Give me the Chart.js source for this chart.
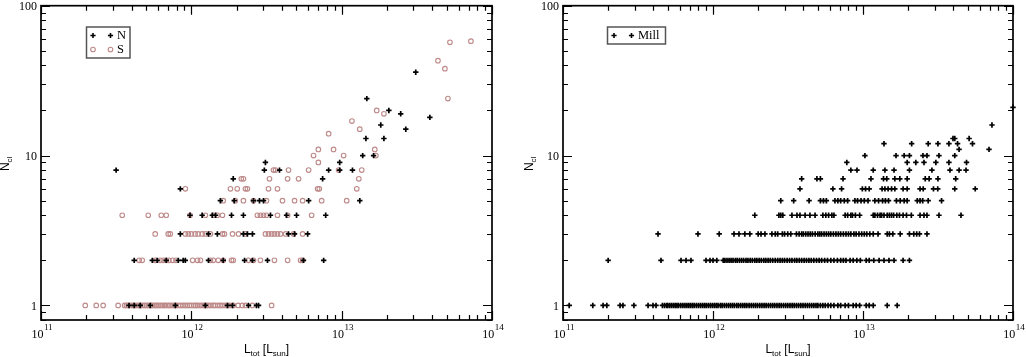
<!DOCTYPE html>
<html>
<head>
<meta charset="utf-8">
<script src="https://cdn.jsdelivr.net/npm/chart.js@4.4.1/dist/chart.umd.min.js"></script>
<style>
  body { margin: 0; background: #fff; width: 1026px; height: 357px; overflow: hidden; position: relative; }
  canvas { position: absolute; top: 0; }
  #leftChart { left: 0; }
  #rightChart { left: 510px; }
</style>
</head>
<body>
<canvas id="leftChart" width="510" height="357"></canvas>
<canvas id="rightChart" width="516" height="357"></canvas>
<script>
// axis ranges and tick labels
const lumMin = 1e11, lumMax = 1e14;
const nclMin = 0.8, nclMax = 100;
const xTickExps = ['11', '12', '13', '14'];
const yTickLabels = ['1', '10', '100'];

// [N_cl, [L_tot values]]
const northRows = [
  [1, [3.85e11, 4.17e11, 4.57e11, 5.33e11, 7.83e11, 1.24e12, 1.74e12, 1.88e12, 2.40e12, 2.71e12, 2.80e12]],
  [2, [4.17e11, 5.50e11, 5.93e11, 6.81e11, 8.19e11, 8.83e11, 9.12e11, 1.30e12, 1.63e12, 2.26e12, 2.55e12, 3.21e12, 5.57e12, 7.59e12]],
  [3, [8.45e11, 1.30e12, 1.49e12, 2.22e12, 2.36e12, 2.55e12, 4.43e12, 4.86e12, 5.94e12]],
  [4, [9.8e11, 1.18e12, 1.38e12, 1.45e12, 1.85e12, 2.22e12, 3.36e12, 4.30e12, 5.01e12, 7.83e12]],
  [5, [1.56e12, 1.93e12, 2.59e12, 2.84e12, 3.02e12, 6.03e12, 1.32e13]],
  [6, [8.45e11]],
  [7, [1.90e12, 7.47e12]],
  [8, [3.16e11, 3.06e12, 3.86e12, 8.19e12, 9.7e12, 1.18e13]],
  [9, [3.11e12, 9.7e12]],
  [10, [1.38e13, 1.63e13]],
  [13, [1.45e13, 1.91e13]],
  [15, [2.67e13]],
  [16, [1.82e13]],
  [18, [3.86e13]],
  [19, [2.47e13]],
  [20, [2.06e13]],
  [24, [1.47e13]],
  [36, [3.11e13]]
];

const southRows = [
  [1, [1.97e11, 2.33e11, 2.59e11, 3.26e11, 3.6e11, 3.7e11, 3.8e11, 3.95e11, 4.1e11, 4.2e11, 4.35e11, 4.5e11,
       4.6e11, 4.75e11, 4.9e11, 5.05e11, 5.2e11, 5.4e11, 5.5e11, 5.7e11, 5.85e11, 6.0e11, 6.2e11, 6.4e11,
       6.6e11, 6.75e11, 7.0e11, 7.2e11, 7.45e11, 7.7e11, 7.9e11, 8.2e11, 8.5e11, 8.8e11, 9.1e11, 9.4e11,
       9.7e11, 1.0e12, 1.04e12, 1.07e12, 1.1e12, 1.14e12, 1.18e12, 1.22e12, 1.26e12, 1.3e12, 1.35e12,
       1.4e12, 1.44e12, 1.5e12, 1.55e12, 1.6e12, 1.67e12, 1.73e12, 1.8e12, 1.9e12, 2.05e12, 2.18e12,
       2.29e12, 2.55e12, 3.42e12]],
  [2, [4.50e11, 4.71e11, 5.75e11, 6.2e11, 6.5e11, 6.8e11, 7.1e11, 7.5e11, 7.9e11, 1.02e12, 1.10e12, 1.15e12,
       1.34e12, 1.40e12, 1.51e12, 1.63e12, 1.85e12, 1.90e12, 2.40e12, 2.59e12, 2.88e12, 3.57e12, 4.37e12,
       5.33e12, 5.5e12]],
  [3, [5.75e11, 7.02e11, 7.24e11, 9.12e11, 9.55e11, 1.00e12, 1.06e12, 1.11e12, 1.18e12, 1.24e12, 1.34e12,
       1.61e12, 1.66e12, 1.88e12, 2.06e12, 2.29e12, 3.11e12, 3.26e12, 3.42e12, 3.57e12, 3.74e12, 3.92e12,
       4.24e12, 4.79e12, 5.5e12]],
  [4, [3.47e11, 5.17e11, 6.31e11, 6.81e11, 9.8e11, 1.24e12, 1.40e12, 1.49e12, 1.61e12, 2.75e12, 2.88e12,
       3.02e12, 3.16e12, 3.74e12, 4.37e12, 6.31e12]],
  [5, [1.63e12, 1.96e12, 2.22e12, 2.59e12, 3.16e12, 4.04e12, 4.86e12, 5.5e12, 7.36e12, 1.08e13]],
  [6, [9.12e11, 1.82e12, 2.02e12, 2.29e12, 2.36e12, 3.26e12, 3.74e12, 6.92e12, 7.1e12, 1.26e13]],
  [7, [2.15e12, 2.22e12, 3.31e12, 4.37e12, 5.17e12, 1.30e13]],
  [8, [3.52e12, 3.63e12, 4.43e12, 6.03e12, 9.55e12, 1.36e13]],
  [9, [7.0e12]],
  [10, [6.5e12, 1.03e13, 1.69e13]],
  [11, [7.0e12, 8.83e12, 1.66e13]],
  [14, [8.19e12]],
  [15, [1.32e13]],
  [17, [1.17e13]],
  [19, [1.91e13]],
  [20, [1.71e13]],
  [24, [5.09e13]],
  [38, [4.86e13]],
  [43, [4.37e13]],
  [57, [5.25e13]],
  [58, [7.24e13]]
];

const millRows = [
  [1, [1.10e11, 1.58e11, 1.85e11, 1.96e11, 2.40e11, 2.51e11, 2.97e11, 3.69e11, 3.98e11, 4.17e11,
       4.6e11, 4.75e11, 4.9e11, 5.0e11, 5.15e11, 5.3e11, 5.45e11, 5.6e11, 5.75e11, 5.9e11, 6.1e11, 6.3e11,
       6.5e11, 6.7e11, 6.9e11, 7.1e11, 7.3e11, 7.5e11, 7.75e11, 8.0e11, 8.25e11, 8.5e11, 8.75e11, 9.0e11,
       9.3e11, 9.6e11, 9.9e11, 1.02e12, 1.05e12, 1.08e12, 1.12e12, 1.15e12, 1.19e12, 1.23e12, 1.27e12,
       1.31e12, 1.35e12, 1.39e12, 1.44e12, 1.48e12, 1.53e12, 1.58e12, 1.63e12, 1.68e12, 1.74e12, 1.8e12,
       1.86e12, 1.92e12, 1.98e12, 2.05e12, 2.12e12, 2.19e12, 2.26e12, 2.34e12, 2.42e12, 2.5e12, 2.58e12,
       2.67e12, 2.76e12, 2.85e12, 2.95e12, 3.05e12, 3.15e12, 3.26e12, 3.37e12, 3.48e12, 3.6e12, 3.72e12,
       3.85e12, 3.98e12, 4.12e12, 4.26e12, 4.4e12, 4.55e12, 4.7e12, 4.86e12, 5.0e12, 5.2e12, 5.4e12,
       5.6e12, 5.85e12, 6.1e12, 6.4e12, 6.8e12, 7.1e12, 7.6e12, 8.0e12, 8.6e12, 9.0e12, 9.5e12, 1.05e13,
       1.1e13, 1.17e13, 1.45e13, 1.69e13]],
  [2, [2.0e11, 4.50e11, 6.12e11, 6.61e11, 7.13e11, 8.98e11, 9.55e11, 1.0e12, 1.06e12,
       1.17e12, 1.2e12, 1.24e12, 1.28e12, 1.32e12, 1.36e12, 1.41e12, 1.45e12, 1.5e12, 1.55e12, 1.6e12,
       1.66e12, 1.71e12, 1.77e12, 1.83e12, 1.9e12, 1.96e12, 2.03e12, 2.1e12, 2.18e12, 2.25e12, 2.33e12,
       2.41e12, 2.5e12, 2.6e12, 2.7e12, 2.8e12, 2.9e12, 3.0e12, 3.12e12, 3.24e12, 3.36e12, 3.5e12, 3.62e12,
       3.76e12, 3.9e12, 4.05e12, 4.2e12, 4.36e12, 4.52e12, 4.7e12, 4.9e12, 5.1e12, 5.3e12, 5.55e12, 5.8e12,
       6.1e12, 6.4e12, 6.75e12, 7.1e12, 7.4e12, 7.7e12, 8.2e12, 8.6e12, 9.1e12, 9.6e12, 1.05e13, 1.1e13,
       1.18e13, 1.28e13, 1.38e13, 1.49e13, 1.61e13, 1.85e13, 2.04e13]],
  [3, [4.30e11, 7.94e11, 1.10e12, 1.38e12, 1.49e12, 1.63e12, 1.76e12, 2.0e12, 2.09e12, 2.22e12, 2.47e12,
       2.6e12, 2.7e12, 2.9e12, 3.0e12, 3.15e12, 3.3e12, 3.6e12, 3.75e12, 3.9e12, 4.0e12, 4.15e12, 4.3e12,
       4.45e12, 4.6e12, 4.8e12, 5.0e12, 5.15e12, 5.3e12, 5.5e12, 5.7e12, 5.9e12, 6.1e12, 6.35e12, 6.6e12,
       6.85e12, 7.1e12, 7.4e12, 7.7e12, 8.0e12, 8.3e12, 8.7e12, 9.0e12, 9.4e12, 9.8e12, 1.02e13, 1.06e13,
       1.11e13, 1.17e13, 1.26e13, 1.45e13, 1.5e13, 1.58e13, 1.77e13, 2.04e13, 2.18e13, 2.28e13, 2.38e13,
       2.67e13]],
  [4, [1.90e12, 2.75e12, 2.83e12, 2.92e12, 3.36e12, 3.63e12, 3.80e12, 4.11e12, 4.43e12, 4.79e12, 5.4e12,
       5.65e12, 5.9e12, 6.2e12, 6.4e12, 7.6e12, 7.9e12, 8.3e12, 8.5e12, 8.9e12, 9.5e12, 1.17e13, 1.2e13,
       1.25e13, 1.3e13, 1.33e13, 1.38e13, 1.45e13, 1.5e13, 1.55e13, 1.6e13, 1.68e13, 1.75e13, 1.85e13,
       1.95e13, 2.1e13, 2.4e13, 2.55e13, 2.67e13, 3.21e13, 4.5e13]],
  [5, [2.83e12, 3.45e12, 4.37e12, 5.2e12, 5.45e12, 5.7e12, 6.5e12, 6.8e12, 7.1e12, 7.5e12, 7.9e12, 8.83e12,
       9.2e12, 9.7e12, 1.02e13, 1.08e13, 1.2e13, 1.27e13, 1.35e13, 1.41e13, 1.48e13, 1.67e13, 1.77e13,
       1.88e13, 1.97e13, 2.3e13, 2.4e13, 2.5e13, 2.72e13, 3.34e13]],
  [6, [3.80e12, 6.3e12, 7.2e12, 9.9e12, 1.04e13, 1.1e13, 1.34e13, 1.4e13, 1.47e13, 1.55e13, 1.63e13,
       1.85e13, 1.97e13, 2.4e13, 2.52e13, 2.95e13, 3.15e13, 4.09e13, 5.6e13]],
  [7, [3.9e12, 4.93e12, 5.2e12, 7.36e12, 1.13e13, 1.37e13, 1.44e13, 1.63e13, 1.76e13, 1.97e13, 2.6e13,
       2.76e13, 3.16e13, 4.15e13]],
  [8, [8.3e12, 9.12e12, 1.17e13, 1.40e13, 1.61e13, 2.04e13, 2.88e13, 3.8e13, 4.37e13, 4.86e13]],
  [9, [7.8e12, 1.97e13, 2.25e13, 2.55e13, 3.06e13, 3.74e13, 4.9e13]],
  [10, [1.03e13, 1.66e13, 1.88e13, 2.04e13, 2.51e13, 2.67e13, 3.21e13, 4.09e13]],
  [11, [4.37e13, 6.92e13]],
  [12, [1.38e13, 2.11e13, 2.72e13, 3.16e13, 3.74e13, 4.27e13, 5.37e13]],
  [13, [3.98e13, 4.09e13, 5.1e13]],
  [16, [7.24e13]],
  [21, [1.0e14]]
];

const SERIF = '"Liberation Serif", "DejaVu Serif", serif';
const SANS = '"Liberation Sans", "DejaVu Sans", sans-serif';
const ROSY = 'rgb(190, 138, 138)';

function toPoints(rows) {
  const pts = [];
  rows.forEach(r => r[1].forEach(L => pts.push({ x: L, y: r[0] })));
  return pts;
}

// draw a run of text pieces: {t, size, dy, font}
function drawParts(ctx, parts, x, y, align) {
  let total = 0;
  parts.forEach(p => {
    ctx.font = p.size + 'px ' + p.font;
    p.w = ctx.measureText(p.t).width;
    total += p.w + (p.gap || 0);
  });
  let cx = align === 'center' ? x - total / 2 : x;
  ctx.textAlign = 'left';
  ctx.textBaseline = 'alphabetic';
  parts.forEach(p => {
    ctx.font = p.size + 'px ' + p.font;
    cx += (p.gap || 0);
    ctx.fillText(p.t, cx, y + (p.dy || 0));
    cx += p.w;
  });
}

function drawMarker(ctx, style, x, y) {
  ctx.save();
  ctx.beginPath();
  if (style === 'circle') {
    ctx.strokeStyle = ROSY;
    ctx.lineWidth = 1.1;
    ctx.arc(x, y, 2.3, 0, Math.PI * 2);
  } else {
    ctx.strokeStyle = '#000';
    ctx.lineWidth = 1.6;
    ctx.moveTo(x - 2.6, y); ctx.lineTo(x + 2.6, y);
    ctx.moveTo(x, y - 2.6); ctx.lineTo(x, y + 2.6);
  }
  ctx.stroke();
  ctx.restore();
}

const axesPlugin = {
  id: 'axesFrame',
  afterDraw(chart, args, opts) {
    const ctx = chart.ctx;
    const xs = chart.scales.x, ys = chart.scales.y;
    const { left, right, top, bottom } = chart.chartArea;
    ctx.save();
    ctx.fillStyle = '#000';
    ctx.strokeStyle = '#000';

    // ticks, pointing inward on all four sides
    ctx.lineWidth = 1.2;
    ctx.beginPath();
    for (let e = 11; e <= 14; e++) {
      for (let m = 1; m <= 9; m++) {
        const v = m * Math.pow(10, e);
        if (v > lumMax * 1.0001) break;
        const px = Math.round(xs.getPixelForValue(v)) + 0.5;
        const len = m === 1 ? 9 : 5;
        ctx.moveTo(px, bottom); ctx.lineTo(px, bottom - len);
        ctx.moveTo(px, top); ctx.lineTo(px, top + len);
      }
    }
    for (let e = -1; e <= 2; e++) {
      for (let m = 1; m <= 9; m++) {
        const v = m * Math.pow(10, e);
        if (v < nclMin) continue;
        if (v > nclMax * 1.0001) break;
        const py = Math.round(ys.getPixelForValue(v)) + 0.5;
        const len = m === 1 ? 9 : 5;
        ctx.moveTo(left, py); ctx.lineTo(left + len, py);
        ctx.moveTo(right, py); ctx.lineTo(right - len, py);
      }
    }
    ctx.stroke();

    // frame
    ctx.lineWidth = 1.7;
    ctx.strokeRect(left, top, right - left, bottom - top);

    // x tick labels 10^n
    xTickExps.forEach(exp => {
      const px = xs.getPixelForValue(Math.pow(10, +exp));
      drawParts(ctx, [
        { t: '10', size: 12, font: SERIF },
        { t: exp, size: 9, font: SERIF, dy: -8, gap: 0.5 }
      ], px + 1, 338, 'center');
    });

    // y tick labels
    ctx.font = '12px ' + SERIF;
    ctx.textAlign = 'right';
    ctx.textBaseline = 'middle';
    yTickLabels.forEach(lab => {
      const py = ys.getPixelForValue(+lab);
      ctx.fillText(lab, left - 4, py + 1);
    });

    // axis titles
    drawParts(ctx, [
      { t: 'L', size: 12, font: SANS },
      { t: 'tot', size: 8, font: SANS, dy: 3 },
      { t: ' [L', size: 12, font: SANS },
      { t: 'sun', size: 8, font: SANS, dy: 3 },
      { t: ']', size: 12, font: SANS }
    ], (left + right) / 2, 353, 'center');

    ctx.save();
    ctx.translate(opts.yTitleX, (top + bottom) / 2 + 1);
    ctx.rotate(-Math.PI / 2);
    drawParts(ctx, [
      { t: 'N', size: 12, font: SANS },
      { t: 'cl', size: 8, font: SANS, dy: 3 }
    ], 0, 0, 'center');
    ctx.restore();

    // legend box
    const lg = opts.legend;
    ctx.strokeStyle = '#555';
    ctx.lineWidth = 1.5;
    ctx.strokeRect(lg.x, lg.y, lg.w, lg.h);
    ctx.fillStyle = '#000';
    lg.items.forEach((it, i) => {
      const yy = lg.y + 8.5 + i * 14;
      drawMarker(ctx, it.style, lg.x + 6.5, yy);
      drawMarker(ctx, it.style, lg.x + 24, yy);
      ctx.font = '12.5px ' + SERIF;
      ctx.textAlign = 'left';
      ctx.textBaseline = 'middle';
      ctx.fillText(it.label, lg.x + 30.5, yy + 0.5);
    });
    ctx.restore();
  }
};

function logScales() {
  return {
    x: { type: 'logarithmic', min: lumMin, max: lumMax, display: false },
    y: { type: 'logarithmic', min: nclMin, max: nclMax, display: false }
  };
}

const crossStyle = { pointStyle: 'cross', pointRadius: 2.7, pointBorderWidth: 1.7, borderColor: '#000', backgroundColor: '#000' };
const circleStyle = { pointStyle: 'circle', pointRadius: 2.3, pointBorderWidth: 1.1, borderColor: ROSY, backgroundColor: 'rgba(0,0,0,0)' };

new Chart(document.getElementById('leftChart'), {
  type: 'scatter',
  data: {
    datasets: [
      Object.assign({ label: 'N', data: toPoints(northRows), clip: false }, crossStyle),
      Object.assign({ label: 'S', data: toPoints(southRows), clip: false }, circleStyle)
    ]
  },
  options: {
    responsive: false,
    animation: false,
    events: [],
    layout: { padding: { left: 41, right: 18, top: 5, bottom: 37 } },
    scales: logScales(),
    plugins: {
      legend: { display: false },
      tooltip: { enabled: false },
      axesFrame: {
        yTitleX: 9,
        legend: { x: 86.5, y: 27, w: 43.5, h: 31, items: [{ style: 'cross', label: 'N' }, { style: 'circle', label: 'S' }] }
      }
    }
  },
  plugins: [axesPlugin]
});

new Chart(document.getElementById('rightChart'), {
  type: 'scatter',
  data: {
    datasets: [
      Object.assign({ label: 'Mill', data: toPoints(millRows), clip: false }, crossStyle)
    ]
  },
  options: {
    responsive: false,
    animation: false,
    events: [],
    layout: { padding: { left: 53, right: 13, top: 5, bottom: 37 } },
    scales: logScales(),
    plugins: {
      legend: { display: false },
      tooltip: { enabled: false },
      axesFrame: {
        yTitleX: 22.5,
        legend: { x: 97.5, y: 27, w: 58, h: 17, items: [{ style: 'cross', label: 'Mill' }] }
      }
    }
  },
  plugins: [axesPlugin]
});
</script>
</body>
</html>
